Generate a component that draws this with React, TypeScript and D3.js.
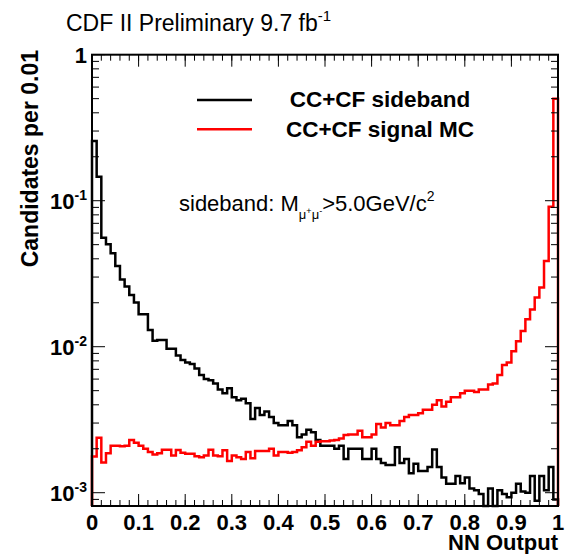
import React from "react";
import * as d3 from "d3";

const binEdges: number[] = Array.from({ length: 101 }, (_, i) => i / 100);

const sidebandValues: number[] = [
  0.256, 0.146, 0.0558, 0.0503, 0.0436, 0.0357, 0.0289, 0.0258, 0.0226, 0.0201,
  0.0167, 0.0167, 0.013, 0.011, 0.0111, 0.0111, 0.0097, 0.0097, 0.0087, 0.0081,
  0.0078, 0.0076, 0.0071, 0.0064, 0.006, 0.0059, 0.0056, 0.0051, 0.0048, 0.0052,
  0.0045, 0.0043, 0.0044, 0.0041, 0.0032, 0.0038, 0.0034, 0.0036, 0.0033, 0.003,
  0.0029, 0.0029, 0.0031, 0.0029, 0.0024, 0.0025, 0.0027, 0.0026, 0.0023, 0.0021,
  0.0021, 0.0021, 0.002, 0.0021, 0.0017, 0.002, 0.002, 0.002, 0.0017, 0.0017,
  0.002, 0.0017, 0.0016, 0.00155, 0.00155, 0.00205, 0.0016, 0.0017, 0.00136, 0.00158,
  0.00141, 0.00141, 0.0015, 0.00198, 0.0015, 0.00127, 0.00115, 0.00115, 0.0013, 0.00116,
  0.00127, 0.00107, 0.00104, 0.00098, 0.0007, 0.00107, 0.0007, 0.00104, 0.00098, 0.00093,
  0.001, 0.00115, 0.00102, 0.001, 0.0013, 0.00088, 0.0013, 0.00104, 0.0015, 0.0009,
];

const signalValues: number[] = [
  0.00177, 0.00238, 0.00161, 0.00186, 0.0021, 0.0021, 0.00208, 0.0021, 0.0023, 0.0022,
  0.0021, 0.002, 0.0019, 0.00183, 0.00186, 0.00197, 0.00197, 0.0018, 0.00196, 0.00188,
  0.00185, 0.00185, 0.00178, 0.00175, 0.0018, 0.00197, 0.0018, 0.00178, 0.00195, 0.00165,
  0.0018, 0.00175, 0.0017, 0.0019, 0.00172, 0.00193, 0.00193, 0.00193, 0.002, 0.0018,
  0.0019, 0.0019, 0.00188, 0.0019, 0.00195, 0.00205, 0.00223, 0.0021, 0.00223, 0.00225,
  0.00225, 0.00228, 0.0023, 0.00235, 0.00248, 0.0025, 0.0025, 0.00266, 0.0024, 0.0024,
  0.0025, 0.00296, 0.0028, 0.003, 0.0029, 0.0029, 0.0031, 0.0033, 0.0034, 0.0034,
  0.0035, 0.0037, 0.0037, 0.004, 0.0043, 0.0039, 0.0042, 0.0045, 0.0045, 0.0048,
  0.005, 0.005, 0.0049, 0.0051, 0.0051, 0.0055, 0.0056, 0.0064, 0.0075, 0.0078,
  0.0093, 0.0109, 0.0128, 0.0154, 0.018, 0.0217, 0.0254, 0.0386, 0.091, 0.5,
];

const xTickLabels: string[] = ["0", "0.1", "0.2", "0.3", "0.4", "0.5", "0.6", "0.7", "0.8", "0.9", "1"];
const yDecades: number[] = [-3, -2, -1, 0];
const legendLabels: string[] = ["CC+CF sideband", "CC+CF signal MC"];
const seriesColors: string[] = ["#000000", "#ff0000"];

const W = 568;
const H = 554;
const L = 92;
const R = 558;
const T = 54.7;
const B = 506;
const YMIN = 0.000811;
const FONT = "'Liberation Sans', Arial, Helvetica, sans-serif";

export default function App() {
  const x = d3.scaleLinear().domain([0, 1]).range([L, R]);
  const y = d3.scaleLog().domain([YMIN, 1]).range([B, T]);
  const yc = (v: number) => y(Math.max(YMIN, Math.min(1, v)));

  const histPath = (vals: number[]) => {
    const p = d3.path();
    p.moveTo(x(binEdges[0]), B);
    vals.forEach((v, i) => {
      p.lineTo(x(binEdges[i]), yc(v));
      p.lineTo(x(binEdges[i + 1]), yc(v));
    });
    p.lineTo(x(binEdges[vals.length]), B);
    return p.toString();
  };

  const xMinor: number[] = d3.range(0, 51).map((i) => i / 50);
  const xMajor: number[] = d3.range(0, 11).map((i) => i / 10);

  const yMinor: number[] = [];
  for (let d = -4; d <= 0; d++) {
    for (let k = 2; k <= 9; k++) {
      const v = k * Math.pow(10, d);
      if (v >= YMIN && v <= 1) yMinor.push(v);
    }
  }
  const yMajor = yDecades.map((d) => Math.pow(10, d));

  const boldLab = { fontFamily: FONT, fontWeight: 700, fontSize: 22 } as const;

  return (
    <svg
      width={W}
      height={H}
      style={{ position: "absolute", left: 0, top: 0, background: "#fff" }}
    >
      <rect x={0} y={0} width={W} height={H} fill="#fff" />
      <text x={66} y={31} fontFamily={FONT} fontSize={23} fill="#000">
        CDF II Preliminary 9.7 fb
        <tspan fontSize={15} dy={-10}>-1</tspan>
      </text>

      <path d={histPath(sidebandValues)} fill="none" stroke={seriesColors[0]} strokeWidth={2.5} />
      <path d={histPath(signalValues)} fill="none" stroke={seriesColors[1]} strokeWidth={2.5} />

      <g stroke="#000" strokeWidth={1}>
        {xMinor.map((v, i) => (
          <g key={"xm" + i}>
            <line x1={x(v)} x2={x(v)} y1={B} y2={B - 6} />
            <line x1={x(v)} x2={x(v)} y1={T} y2={T + 6} />
          </g>
        ))}
        {xMajor.map((v, i) => (
          <g key={"xM" + i}>
            <line x1={x(v)} x2={x(v)} y1={B} y2={B - 12} />
            <line x1={x(v)} x2={x(v)} y1={T} y2={T + 12} />
          </g>
        ))}
        {yMinor.map((v, i) => (
          <g key={"ym" + i}>
            <line x1={L} x2={L + 7} y1={y(v)} y2={y(v)} />
            <line x1={R} x2={R - 7} y1={y(v)} y2={y(v)} />
          </g>
        ))}
        {yMajor.map((v, i) => (
          <g key={"yM" + i}>
            <line x1={L} x2={L + 13} y1={y(v)} y2={y(v)} />
            <line x1={R} x2={R - 13} y1={y(v)} y2={y(v)} />
          </g>
        ))}
      </g>

      <rect x={L} y={T} width={R - L} height={B - T} fill="none" stroke="#000" strokeWidth={2} />

      {yDecades.map((d, i) =>
        d === 0 ? (
          <text key={"yl" + i} x={87} y={y(1) + 8} textAnchor="end" {...boldLab}>
            1
          </text>
        ) : (
          <text key={"yl" + i} x={87} y={y(Math.pow(10, d)) + 8} textAnchor="end" {...boldLab}>
            10
            <tspan fontSize={14} dy={-9}>{String(d)}</tspan>
          </text>
        )
      )}

      {xTickLabels.map((t, i) => (
        <text key={"xl" + i} x={x(xMajor[i])} y={530} textAnchor="middle" {...boldLab}>
          {t}
        </text>
      ))}
      <text x={R} y={550} textAnchor="end" {...boldLab}>
        NN Output
      </text>
      <text
        transform={`translate(38, 50) rotate(-90)`}
        textAnchor="end"
        fontFamily={FONT}
        fontWeight={700}
        fontSize={23}
      >
        Candidates per 0.01
      </text>

      {legendLabels.map((lab, i) => (
        <g key={"lg" + i}>
          <line
            x1={197}
            x2={252}
            y1={100 + i * 29.3}
            y2={100 + i * 29.3}
            stroke={seriesColors[i]}
            strokeWidth={2.5}
          />
          <text x={380} y={107 + i * 29.5} textAnchor="middle" {...boldLab} fontSize={22.5}>
            {lab}
          </text>
        </g>
      ))}

      <text x={179} y={211} fontFamily={FONT} fontSize={22} fill="#000">
        sideband: M
        <tspan fontSize={13} dy={8}>μ</tspan>
        <tspan fontSize={9} dy={-5}>+</tspan>
        <tspan fontSize={13} dy={5}>μ</tspan>
        <tspan fontSize={9} dy={-5}>-</tspan>
        <tspan fontSize={22} dy={-3}>&gt;5.0GeV/c</tspan>
        <tspan fontSize={14} dy={-10}>2</tspan>
      </text>
    </svg>
  );
}
